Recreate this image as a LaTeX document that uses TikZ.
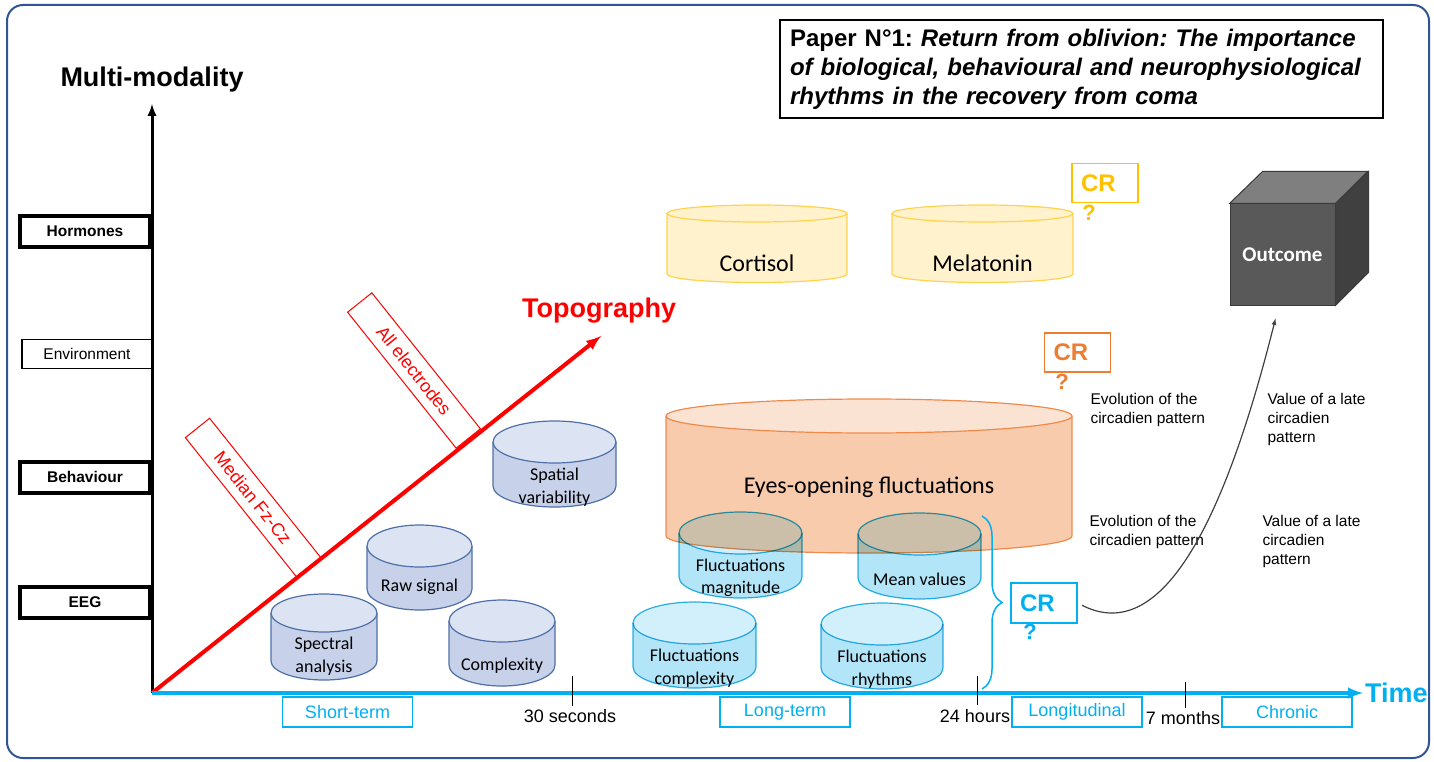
\documentclass[tikz,border=0pt]{standalone}
\usepackage{fontspec}
\setmainfont{Liberation Sans}
\newfontfamily\calibri{Carlito}
\usepackage{tikz}
\usetikzlibrary{positioning}
\usetikzlibrary{decorations.pathreplacing}
\usepackage{xcolor}
\frenchspacing
\definecolor{frameblue}{HTML}{2F5597}
\definecolor{timeblue}{HTML}{00B0F0}
\definecolor{crorange}{HTML}{ED7D31}
\definecolor{cryellow}{HTML}{FFC000}
\definecolor{eegside}{HTML}{C7D2EA}
\definecolor{eegtop}{HTML}{DCE3F2}
\definecolor{eegline}{HTML}{4F6FA8}
\definecolor{flucside}{HTML}{B3E5F8}
\definecolor{fluctop}{HTML}{D2F0FB}
\definecolor{flucline}{HTML}{2EB4E6}
\definecolor{eyeside}{HTML}{F8CBAD}
\definecolor{eyetop}{HTML}{FBE3D4}
\definecolor{eyeline}{HTML}{F08A4B}
\definecolor{hormside}{HTML}{FFF2CC}
\definecolor{hormtop}{HTML}{FFF2CC}
\definecolor{hormline}{HTML}{FFD34E}
\definecolor{cubefront}{HTML}{595959}
\definecolor{cubetop}{HTML}{7F7F7F}
\definecolor{cubeside}{HTML}{404040}
\definecolor{cubeline}{HTML}{3A3A3A}
\tikzset{axis/.style = {-latex, line width=3pt}}
\tikzset{levelbox/.style = {draw, line width=4pt, minimum width=130pt, minimum height=31pt, inner sep=0pt, font=\fontsize{15.5}{18}\selectfont\bfseries}}
\tikzset{timebox/.style = {draw=timeblue, line width=1.2pt, text=timeblue, minimum width=130pt, minimum height=30pt, font=\fontsize{18}{21}\selectfont}}
\tikzset{tick/.style = {line width=1pt}}
\tikzset{ticklabel/.style = {font=\fontsize{18}{21}\selectfont}}
\tikzset{elecbox/.style = {draw=red, line width=1pt, text=red, rotate=-51.4, minimum height=31pt, font=\fontsize{18}{21}\selectfont}}
\tikzset{crbox/.style = {draw=#1, text=#1, line width=1.2pt, text width=48pt, inner xsep=9pt, minimum height=39pt, align=left, font=\fontsize{24}{28}\selectfont\bfseries}}
\tikzset{qmark/.style = {text=#1, font=\fontsize{22}{26}\selectfont\bfseries}}
\tikzset{note/.style = {align=left, anchor=west, font=\fontsize{15.5}{19}\selectfont}}
\tikzset{cyltext/.style = {align=center, font=\calibri\fontsize{18}{22.5}\selectfont}}
\tikzset{bigtext/.style = {font=\fontsize{27}{32}\selectfont\bfseries}}

% #1 name, #2 centre x, #3 top y, #4 bottom y, #5 x radius, #6 y radius, #7 colour set, #8 text y, #9 text
\newcommand{\drawcyl}[9]{%
	\fill[#7side] (#2-#5,#3) -- (#2-#5,#4) arc[start angle=180, end angle=0, x radius=#5, y radius=#6] -- (#2+#5,#3) arc[start angle=0, end angle=180, x radius=#5, y radius=#6] -- cycle;
	\draw[#7line, line width=1.2pt] (#2-#5,#3) -- (#2-#5,#4) arc[start angle=180, end angle=0, x radius=#5, y radius=#6] -- (#2+#5,#3);
	\filldraw[fill=#7top, draw=#7line, line width=1.2pt] (#2,#3) ellipse [x radius=#5, y radius=#6];
	\node[cyltext](#1) at (#2,#8){#9};
}

\begin{document}
\begin{tikzpicture}[x=1pt, y=-1pt]
		\useasboundingbox (0,0) rectangle (1434,762);
		%draw outer frame
		\draw[frameblue, line width=2pt, rounded corners=16pt] (7,5) rectangle (1429,758);

		%title box
		\node[draw, line width=2pt, text width=583pt, inner xsep=10pt, inner ysep=9pt, align=left, font=\fontsize{24}{29}\selectfont\bfseries](title) at (1081.5,69){Paper N°1: \itshape Return from oblivion: The importance\\ of biological, behavioural and neurophysiological\\ rhythms in the recovery from coma};

		%levels of the vertical axis
		\node[levelbox](horm) at (85,231){Hormones};
		\node[levelbox, line width=1.2pt, minimum height=29pt, font=\fontsize{15.5}{18}\selectfont](env) at (87,354){Environment};
		\node[levelbox](behav) at (85,477){Behaviour};
		\node[levelbox](eeg) at (85,602){EEG};

		%electrode boxes along the topography axis
		\node[elecbox, minimum width=178pt](median) at (253,497.5){Median Fz-Cz};
		\node[elecbox, minimum width=174pt](allel) at (414,370.5){All electrodes};

		%eeg cylinders
		\drawcyl{spec}{324}{613}{661}{53}{19}{eeg}{656}{Spectral\\analysis}
		\drawcyl{raw}{419.5}{546}{589}{52.5}{21}{eeg}{587}{Raw signal}
		\drawcyl{cplx}{502}{621}{665}{53}{21}{eeg}{666}{Complexity}
		\drawcyl{spat}{554.5}{442}{486}{61.5}{21}{eeg}{487}{Spatial\\variability}

		%hormone cylinders
		\drawcyl{cort}{757}{213.5}{274}{90}{8.5}{horm}{263}{\fontsize{24}{28}\selectfont Cortisol}
		\drawcyl{mela}{982.5}{213.5}{274}{90.5}{8.5}{horm}{263}{\fontsize{24}{28}\selectfont Melatonin}

		%behaviour cylinder
		\drawcyl{eyes}{869}{416}{536}{203}{17}{eye}{487}{\fontsize{24}{28}\selectfont Eyes-opening fluctuations}

		%fluctuation cylinders
		\begin{scope}[blend mode=multiply]
		\drawcyl{fmag}{740.5}{533}{577}{61.5}{21}{fluc}{578}{Fluctuations\\magnitude}
		\drawcyl{mean}{919.5}{534}{578}{61.5}{21}{fluc}{579}{Mean values}
		\drawcyl{fcpx}{694.5}{623}{667}{61.5}{21}{fluc}{668}{Fluctuations\\complexity}
		\drawcyl{frhy}{882}{624}{668}{61}{21}{fluc}{669}{Fluctuations\\rhythms}
		\end{scope}

		%draw axes
		\coordinate (O) at (152,693);
		\coordinate (ytop) at (152,104);
		\coordinate (xend) at (1363,693);
		\coordinate (ztop) at (601,336);
		\draw[axis] (O) -- (ytop);
		\draw[axis, red, line width=4pt] (O) -- (ztop);
		\draw[axis, timeblue, line width=4pt] (O) -- (xend);
		\node[bigtext](mm) at (152,80){Multi-modality};
		\node[bigtext, text=red](topo) at (599,311){Topography};
		\node[bigtext, text=timeblue, anchor=west, inner sep=0pt](time) at (1365,693){Time};

		%time scale
		\draw[tick] (572,676) -- (572,706);
		\draw[tick] (977,676) -- (977,705);
		\draw[tick] (1185,682) -- (1185,708);
		\node[ticklabel](sec) at (570,716){30 seconds};
		\node[ticklabel](hrs) at (975,716){24 hours};
		\node[ticklabel](mon) at (1183,718){7 months};
		\node[timebox](shortt) at (347.5,712){Short-term};
		\node[timebox](longt) at (785,712){Long-term};
		\node[timebox](longi) at (1077,712){Longitudinal};
		\node[timebox](chron) at (1287,712){Chronic};

		%circadian rhythm boxes
		\node[crbox=cryellow](crH) at (1105,183){CR};
		\node[qmark=cryellow](qH) at (1089,213){?};
		\node[crbox=crorange](crB) at (1077.5,352.5){CR};
		\node[qmark=crorange](qB) at (1062,382){?};
		\node[crbox=timeblue, minimum height=40pt](crT) at (1044,603){CR};
		\node[qmark=timeblue](qT) at (1030,632){?};
		\draw[timeblue, line width=1.5pt, decorate, decoration={brace, amplitude=20pt}] (982,516) -- (982,689);

		\node[note](evoB) at (1087,410){Evolution of the\\circadien pattern};
		\node[note](valB) at (1264,419){Value of a late\\circadien\\pattern};
		\node[note](evoT) at (1086,532){Evolution of the\\circadien pattern};
		\node[note](valT) at (1259,541){Value of a late\\circadien\\pattern};

		%outcome cube
		\node[fill=cubefront, draw=cubeline, line width=1pt, minimum width=105pt, minimum height=101pt, text=white, font=\calibri\fontsize{21}{25}\selectfont\bfseries](outc) at (1282.5,254.5){Outcome};
		\filldraw[fill=cubetop, draw=cubeline, line width=1pt] (outc.north west) -- ++(33,-32) -- ++(105,0) -- (outc.north east) -- cycle;
		\filldraw[fill=cubeside, draw=cubeline, line width=1pt] (outc.north east) -- ++(33,-32) -- ++(0,101) -- (outc.south east) -- cycle;
		\draw[-latex, line width=1.2pt, cubeside, shorten <=5pt] (crT.east) .. controls (1150,640) and (1215,560) .. ([xshift=-7pt, yshift=-13pt]outc.south);
\end{tikzpicture}
\end{document}
